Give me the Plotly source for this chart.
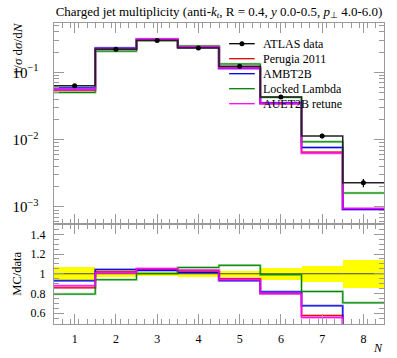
import numpy as np
import plotly.graph_objects as go

# ---- data ----
bins = [1, 2, 3, 4, 5, 6, 7, 8]
tick_labels = ["1", "2", "3", "4", "5", "6", "7", "8"]
atlas_data = [0.0634, 0.220, 0.297, 0.231, 0.123, 0.0430, 0.01135, 0.00229]
atlas_err = [0.0041, 0.0066, 0.0059, 0.0069, 0.0037, 0.0026, 0.00091, 0.00032]
perugia2011 = [0.0544, 0.2244, 0.3089, 0.2379, 0.1169, 0.0344, 0.00653, 0.000939]
ambt2b = [0.0589, 0.2297, 0.3071, 0.2340, 0.1143, 0.0351, 0.00766, 0.000916]
locked_lambda = [0.0503, 0.2068, 0.2979, 0.2458, 0.1335, 0.0426, 0.00931, 0.001614]
auet2b_retune = [0.0557, 0.2222, 0.3130, 0.2395, 0.1156, 0.0343, 0.00630, 0.00095]
legend_names = ["ATLAS data", "Perugia 2011", "AMBT2B", "Locked Lambda", "AUET2B retune"]

FONT = "Liberation Serif"
AXC = "#9a9a9a"

# plot-area geometry in pixels (used only for placing texts/legend)
L, R, T, B = 49.5, 384.0, 23.3, 324.3
PW, PH = R - L, B - T

def px(xp):
    return (xp - L) / PW

def py(yp):
    return (B - yp) / PH

x = np.array(bins, dtype=float)
edges = np.concatenate([x - 0.5, [x[-1] + 0.5]])
d = np.array(atlas_data)
de = np.array(atlas_err)

def step(vals):
    v = np.asarray(vals, dtype=float)
    return edges, np.concatenate([v, [v[-1]]])

fig = go.Figure()

series = [
    ("Perugia 2011", perugia2011, "rgb(230,0,0)", "rgba(230,0,0,0.4)"),
    ("AMBT2B", ambt2b, "rgb(0,0,230)", "rgba(0,0,230,0.4)"),
    ("Locked Lambda", locked_lambda, "rgb(0,128,0)", "rgba(0,150,0,0.4)"),
    ("AUET2B retune", auet2b_retune, "rgb(255,0,255)", "rgba(255,0,255,0.4)"),
]

# ratio band (data uncertainty)
rel = de / d
fig.add_trace(go.Bar(x=x, y=2 * rel, base=1 - rel, width=1.0,
                     marker=dict(color="#ffff00", line=dict(width=0)),
                     showlegend=False, hoverinfo="skip", xaxis="x2", yaxis="y2"))
ex, ey = step(np.ones_like(d))
fig.add_trace(go.Scatter(x=ex, y=ey, mode="lines", line=dict(color="#444444", width=1, shape="hv"),
                         showlegend=False, xaxis="x2", yaxis="y2"))

for name, vals, col, band in series:
    sx, sy = step(vals)
    fig.add_trace(go.Scatter(x=sx, y=sy, mode="lines", line=dict(color=band, width=2.5, shape="hv"),
                             showlegend=False, hoverinfo="skip"))
    fig.add_trace(go.Scatter(x=sx, y=sy, mode="lines", line=dict(color=col, width=1, shape="hv"),
                             name=name, showlegend=False))
    r = np.asarray(vals) / d
    rx, ry = step(r)
    fig.add_trace(go.Scatter(x=rx, y=ry, mode="lines", line=dict(color=band, width=2.5, shape="hv"),
                             showlegend=False, hoverinfo="skip", xaxis="x2", yaxis="y2"))
    fig.add_trace(go.Scatter(x=rx, y=ry, mode="lines", line=dict(color=col, width=1, shape="hv"),
                             showlegend=False, xaxis="x2", yaxis="y2"))

# data: step line + points with error bars
sx, sy = step(atlas_data)
fig.add_trace(go.Scatter(x=sx, y=sy, mode="lines", line=dict(color="#222222", width=1.5, shape="hv"),
                         name="ATLAS data", showlegend=False))
fig.add_trace(go.Scatter(x=x, y=d, mode="markers", marker=dict(color="black", size=5),
                         error_y=dict(type="data", array=de, color="black", thickness=1.2, width=0),
                         showlegend=False))

# ---- manual legend (compact spacing like the reference) ----
leg_colors = ["black"] + [s[2] for s in series]
shapes = []
annotations = []
for i, (nm, c) in enumerate(zip(legend_names, leg_colors)):
    yy = py(44 + 15 * i)
    shapes.append(dict(type="line", xref="paper", yref="paper", x0=px(227), x1=px(253), y0=yy, y1=yy,
                       line=dict(color=c, width=1.3)))
    annotations.append(dict(text=nm, x=px(259.5), y=yy, xref="paper", yref="paper", xanchor="left",
                            yanchor="middle", showarrow=False, font=dict(family=FONT, size=12, color="black")))
shapes.append(dict(type="circle", xref="paper", yref="paper", xsizemode="pixel", ysizemode="pixel",
                   xanchor=px(240), yanchor=py(44), x0=-2.5, x1=2.5, y0=-2.5, y1=2.5,
                   fillcolor="black", line=dict(color="black", width=0)))

annotations += [
    dict(text="1/<i>σ</i> d<i>σ</i>/d<i>N</i>", textangle=-90, x=px(12), y=py(21), xref="paper", yref="paper",
         xanchor="center", yanchor="top", showarrow=False, font=dict(family=FONT, size=13)),
    dict(text="MC/data", textangle=-90, x=px(12), y=py(274), xref="paper", yref="paper",
         xanchor="center", yanchor="middle", showarrow=False, font=dict(family=FONT, size=12.5)),
    dict(text="<i>N</i>", x=px(378), y=py(348), xref="paper", yref="paper",
         xanchor="center", yanchor="middle", showarrow=False, font=dict(family=FONT, size=12)),
]

split = (B - 224.3) / PH
common_x = dict(range=[0.5, 8.5], showline=True, linecolor=AXC, linewidth=1, mirror="allticks",
                ticks="inside", ticklen=10, tickcolor=AXC, tickvals=bins,
                minor=dict(dtick=0.2, tick0=0.5, ticks="inside", ticklen=5, tickcolor=AXC),
                showgrid=False, zeroline=False)
fig.update_layout(
    width=397, height=358,
    margin=dict(l=L, r=397 - R, t=T, b=358 - B),
    paper_bgcolor="white", plot_bgcolor="white",
    font=dict(family=FONT, size=12, color="black"),
    title=dict(text="Charged jet multiplicity (anti-<i>k</i><sub><i>t</i></sub>, R = 0.4, <i>y</i> 0.0-0.5, <i>p</i><sub>⊥</sub> 4.0-6.0)",
               x=0.5, xref="paper", xanchor="center", y=1 - 11 / 358, yanchor="middle",
               font=dict(family=FONT, size=13)),
    xaxis=dict(common_x, domain=[0, 1], anchor="y", showticklabels=False),
    yaxis=dict(type="log", domain=[split, 1], range=[-3.253, -0.266], showline=True, linecolor=AXC,
               mirror="allticks", ticks="inside", ticklen=10, tickcolor=AXC, dtick=1,
               exponentformat="power", showexponent="all",
               minor=dict(dtick="D1", ticks="inside", ticklen=5, tickcolor=AXC),
               showgrid=False, zeroline=False, ticklabelstandoff=12),
    xaxis2=dict(common_x, domain=[0, 1], anchor="y2", ticktext=tick_labels, showticklabels=True,
                ticklabelstandoff=4),
    yaxis2=dict(domain=[0, split], range=[0.49, 1.505], showline=True, linecolor=AXC,
                mirror="allticks", ticks="inside", ticklen=10, tickcolor=AXC,
                tickvals=[0.6, 0.8, 1.0, 1.2, 1.4], ticktext=["0.6", "0.8", "1", "1.2", "1.4"],
                minor=dict(dtick=0.05, tick0=0.5, ticks="inside", ticklen=5, tickcolor=AXC),
                showgrid=False, zeroline=False, ticklabelstandoff=5),
    showlegend=False,
    bargap=0,
    shapes=shapes,
    annotations=annotations,
)

fig.write_html("out.html", config={"displayModeBar": False},
               post_script="document.body.style.margin='0px';document.body.style.padding='0px';")
